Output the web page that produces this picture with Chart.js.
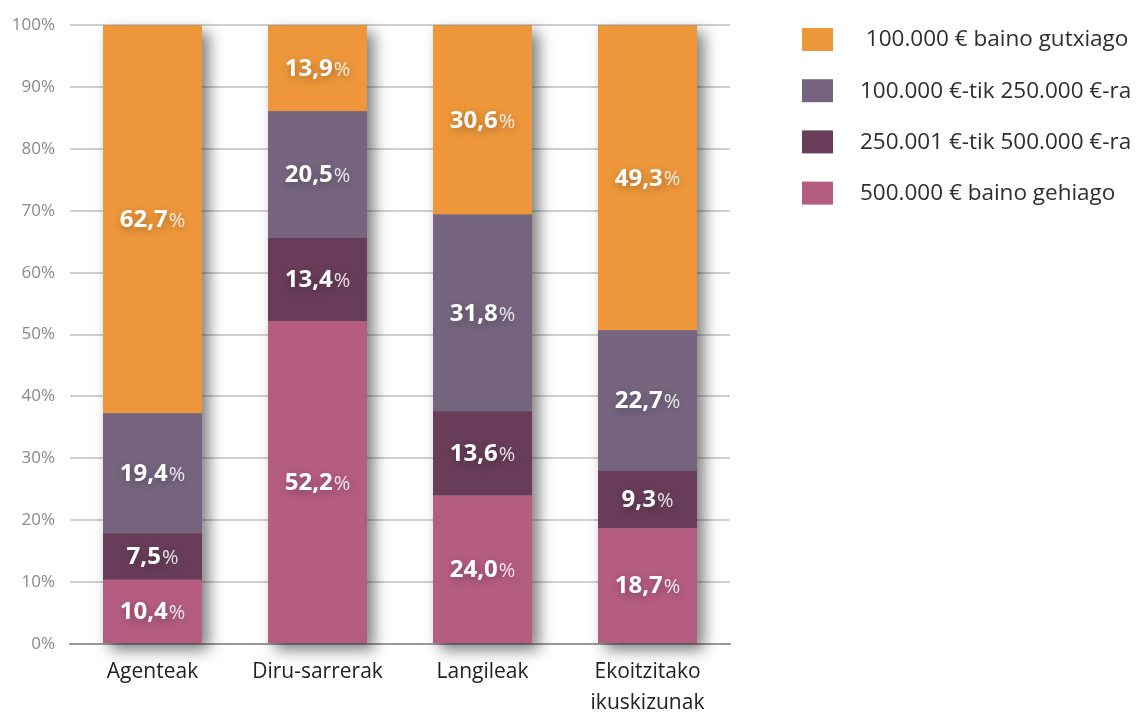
<!DOCTYPE html>
<html>
<head>
<meta charset="utf-8">
<script src="https://cdn.jsdelivr.net/npm/chart.js@4"></script>
<style>
html,body{margin:0;padding:0;background:#fff;}
#wrap{width:1136px;height:715px;position:relative;}
</style>
</head>
<body>
<div id="wrap"><canvas id="c" width="1136" height="715"></canvas></div>
<script>
const categories = ['Agenteak', 'Diru-sarrerak', 'Langileak', ['Ekoitzitako', 'ikuskizunak']];
const seriesNames = ['500.000 € baino gehiago', '250.001 €-tik 500.000 €-ra', '100.000 €-tik 250.000 €-ra', ' 100.000 € baino gutxiago'];
const over500k = [10.4, 52.2, 24.0, 18.7];
const from250to500k = [7.5, 13.4, 13.6, 9.3];
const from100to250k = [19.4, 20.5, 31.8, 22.7];
const under100k = [62.7, 13.9, 30.6, 49.3];
const seriesColors = ['#B55D80', '#693D5A', '#776580', '#EE973A'];
const yTicks = [0, 10, 20, 30, 40, 50, 60, 70, 80, 90, 100];

const seriesValues = [over500k, from250to500k, from100to250k, under100k];

const shadowPlugin = {
  id: 'barShadow',
  beforeDatasetsDraw(chart) {
    const ctx = chart.ctx;
    const first = chart.getDatasetMeta(0);
    const last = chart.getDatasetMeta(chart.data.datasets.length - 1);
    ctx.save();
    ctx.shadowColor = 'rgba(0,0,0,0.5)';
    ctx.shadowBlur = 14;
    ctx.shadowOffsetX = 7;
    ctx.shadowOffsetY = 7;
    ctx.fillStyle = '#888';
    first.data.forEach((el, i) => {
      const top = last.data[i];
      const w = el.width;
      ctx.fillRect(el.x - w / 2, top.y, w, el.base - top.y);
    });
    ctx.restore();
  }
};

const labelPlugin = {
  id: 'segLabels',
  afterDatasetsDraw(chart) {
    const ctx = chart.ctx;
    chart.data.datasets.forEach((ds, di) => {
      const meta = chart.getDatasetMeta(di);
      meta.data.forEach((el, i) => {
        const v = ds.data[i];
        const txt = v.toFixed(1).replace('.', ',');
        const cy = (el.y + el.base) / 2;
        ctx.save();
        ctx.font = 'bold 24px "Open Sans"';
        const w1 = ctx.measureText(txt).width;
        ctx.font = '20px "Open Sans"';
        const w2 = ctx.measureText('%').width;
        const x0 = el.x - (w1 + w2 + 1) / 2;
        ctx.textBaseline = 'middle';
        ctx.shadowColor = 'rgba(0,0,0,0.3)';
        ctx.shadowBlur = 8;
        ctx.shadowOffsetX = 1;
        ctx.shadowOffsetY = 3;
        ctx.font = 'bold 24px "Open Sans"';
        ctx.fillStyle = '#ffffff';
        ctx.fillText(txt, x0, cy + 1);
        ctx.font = '20px "Open Sans"';
        ctx.fillStyle = 'rgba(255,255,255,0.85)';
        ctx.fillText('%', x0 + w1 + 1, cy + 2);
        ctx.restore();
      });
    });
  }
};

const legendPlugin = {
  id: 'customLegend',
  afterDraw(chart) {
    const ctx = chart.ctx;
    ctx.save();
    const n = chart.data.datasets.length;
    for (let k = 0; k < n; k++) {
      const di = n - 1 - k;
      const ds = chart.data.datasets[di];
      const y = 28 + k * 51.2;
      ctx.fillStyle = ds.backgroundColor;
      ctx.fillRect(802, y, 31, 23);
      ctx.fillStyle = '#2e2e2e';
      ctx.font = '22.5px "Open Sans"';
      ctx.textBaseline = 'middle';
      ctx.fillText(ds.label, 860, y + 12);
    }
    ctx.restore();
  }
};

new Chart(document.getElementById('c'), {
  type: 'bar',
  data: {
    labels: categories,
    datasets: seriesNames.map((name, i) => ({
      label: name,
      data: seriesValues[i],
      backgroundColor: seriesColors[i],
      borderWidth: 0,
      barPercentage: 0.6,
      categoryPercentage: 1.0
    }))
  },
  options: {
    responsive: false,
    animation: false,
    layout: { padding: { left: 0, right: 406, top: 19, bottom: 0 } },
    plugins: {
      legend: { display: false },
      tooltip: { enabled: false }
    },
    scales: {
      x: {
        stacked: true,
        grid: { display: false, drawTicks: false },
        border: { display: true, color: '#9a9a9a', width: 2 },
        ticks: { color: '#222', font: { family: 'Open Sans', size: 21, lineHeight: 1.45 }, padding: 13, maxRotation: 0, autoSkip: false },
        afterFit(scale) { scale.height = 71; }
      },
      y: {
        stacked: true,
        min: 0,
        max: 100,
        afterBuildTicks(scale) { scale.ticks = yTicks.map(v => ({ value: v })); },
        grid: { color: '#d0d0d0', lineWidth: 2, drawTicks: false },
        border: { display: false },
        ticks: {
          color: '#8a8a8a',
          font: { family: 'Open Sans', size: 17 },
          padding: 15,
          callback: v => v + '%'
        },
        afterFit(scale) { scale.width = 70; }
      }
    }
  },
  plugins: [shadowPlugin, labelPlugin, legendPlugin]
});
</script>
</body>
</html>
